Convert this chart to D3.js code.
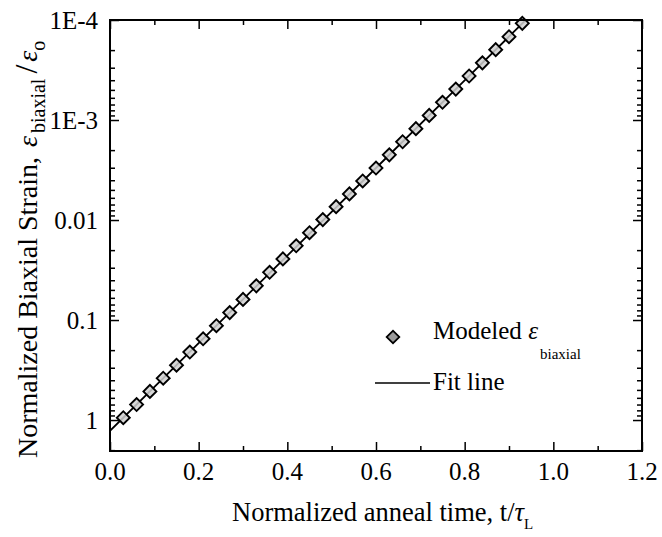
<!DOCTYPE html>
<html>
<head>
<meta charset="utf-8">
<script src="https://cdn.jsdelivr.net/npm/d3@7"></script>
<style>
  html, body { margin: 0; padding: 0; background: #fff; }
  svg { display: block; }
  svg text { font-family: "Liberation Serif", "Times New Roman", serif; fill: #000; }
</style>
</head>
<body>
<svg id="chart" width="662" height="537"></svg>
<script>
// Normalized anneal time t/tau_L for the modeled points
const annealTime = [0.03, 0.06, 0.09, 0.12, 0.15, 0.18, 0.21, 0.24, 0.27, 0.30,
                    0.33, 0.36, 0.39, 0.42, 0.45, 0.48, 0.51, 0.54, 0.57, 0.60,
                    0.63, 0.66, 0.69, 0.72, 0.75, 0.78, 0.81, 0.84, 0.87, 0.90, 0.93];
// Modeled normalized biaxial strain eps_biaxial / eps_o
const modeledStrain = [0.948, 0.700, 0.517, 0.382, 0.283, 0.209, 0.154, 0.114, 0.0842, 0.0622,
                       0.0455, 0.0333, 0.0245, 0.0181, 0.0134, 0.0099, 0.00735, 0.00548, 0.00407, 0.00302,
                       0.00223, 0.00165, 0.00122, 0.000900, 0.000665, 0.000491, 0.000363, 0.000268, 0.000198, 0.000147, 0.000108];
// Fit line (straight in log space)
const fitTime = [0.0, 0.2, 0.4, 0.6, 0.8, 0.94];
const fitStrain = [1.28, 0.1706, 0.0227, 0.00302, 0.000402, 0.0000979];
// Axis ticks
const xTickValues = [0.0, 0.2, 0.4, 0.6, 0.8, 1.0, 1.2];
const xTickLabels = ["0.0", "0.2", "0.4", "0.6", "0.8", "1.0", "1.2"];
const yTickValues = [1e-4, 1e-3, 1e-2, 1e-1, 1];
const yTickLabels = ["1E-4", "1E-3", "0.01", "0.1", "1"];

const svg = d3.select("#chart");
const plotL = 110, plotR = 642, plotT = 20, plotB = 451;

const x = d3.scaleLinear().domain([0, 1.2]).range([plotL, plotR]);
const y = d3.scaleLog().domain([2.04, 1e-4]).range([plotB, plotT]);

// minor ticks
const xMinor = [0.1, 0.3, 0.5, 0.7, 0.9, 1.1];
const yMinor = [];
yTickValues.forEach(d => {
  for (let k = 2; k <= 9; k++) { const v = d * k; if (v <= 2.04) yMinor.push(v); }
});

const g = svg.append("g");

// data clip
svg.append("defs").append("clipPath").attr("id", "plotclip")
  .append("rect").attr("x", plotL).attr("y", plotT).attr("width", plotR - plotL).attr("height", plotB - plotT);

// fit line
const line = d3.line().x((d, i) => x(fitTime[i])).y((d, i) => y(fitStrain[i]));
g.append("path").datum(fitStrain)
  .attr("clip-path", "url(#plotclip)")
  .attr("d", line).attr("fill", "none").attr("stroke", "#000").attr("stroke-width", 1.8);

// diamonds
const diamond = d3.symbol(d3.symbolSquare, 84);
g.append("g").selectAll("path").data(modeledStrain).join("path")
  .attr("d", diamond)
  .attr("transform", (d, i) => `translate(${x(annealTime[i])},${y(d)}) rotate(45)`)
  .attr("fill", "#d0d0d0").attr("fill-opacity", 0.85).attr("stroke", "#000").attr("stroke-width", 1.9);

// axes (ticks inward on all four sides)
const axisStyle = sel => {
  sel.select(".domain").remove();
  sel.selectAll("line").attr("stroke", "#000").attr("stroke-width", 1.5);
};
svg.append("g").attr("transform", `translate(0,${plotB})`)
  .call(d3.axisTop(x).tickValues(xTickValues).tickSize(9).tickFormat("")).call(axisStyle);
svg.append("g").attr("transform", `translate(0,${plotB})`)
  .call(d3.axisTop(x).tickValues(xMinor).tickSize(5).tickFormat("")).call(axisStyle);
svg.append("g").attr("transform", `translate(0,${plotT})`)
  .call(d3.axisBottom(x).tickValues(xTickValues).tickSize(9).tickFormat("")).call(axisStyle);
svg.append("g").attr("transform", `translate(0,${plotT})`)
  .call(d3.axisBottom(x).tickValues(xMinor).tickSize(5).tickFormat("")).call(axisStyle);

svg.append("g").attr("transform", `translate(${plotL},0)`)
  .call(d3.axisRight(y).tickValues(yTickValues).tickSize(9).tickFormat("")).call(axisStyle);
svg.append("g").attr("transform", `translate(${plotL},0)`)
  .call(d3.axisRight(y).tickValues(yMinor).tickSize(5).tickFormat("")).call(axisStyle);
svg.append("g").attr("transform", `translate(${plotR},0)`)
  .call(d3.axisLeft(y).tickValues(yTickValues).tickSize(9).tickFormat("")).call(axisStyle);
svg.append("g").attr("transform", `translate(${plotR},0)`)
  .call(d3.axisLeft(y).tickValues(yMinor).tickSize(5).tickFormat("")).call(axisStyle);

// frame
svg.append("rect").attr("x", plotL).attr("y", plotT).attr("width", plotR - plotL).attr("height", plotB - plotT)
  .attr("fill", "none").attr("stroke", "#000").attr("stroke-width", 2);

// tick labels
svg.append("g").selectAll("text").data(xTickValues).join("text")
  .attr("x", d => x(d)).attr("y", 480).attr("text-anchor", "middle")
  .attr("font-size", 25).text((d, i) => xTickLabels[i]);
svg.append("g").selectAll("text").data(yTickValues).join("text")
  .attr("x", 98).attr("y", d => y(d)).attr("dy", "0.34em").attr("text-anchor", "end")
  .attr("font-size", 25).text((d, i) => yTickLabels[i]);

// x axis title
const xt = svg.append("text").attr("x", 232).attr("y", 521).attr("font-size", 26.5);
xt.append("tspan").text("Normalized anneal time, t/");
xt.append("tspan").attr("font-style", "italic").text("τ");
xt.append("tspan").attr("font-size", 15).attr("dy", 8).text("L");

// y axis title
const yt = svg.append("text").attr("transform", "translate(37,458) rotate(-90)").attr("font-size", 28);
yt.append("tspan").text("Normalized Biaxial Strain,");
yt.append("tspan").attr("font-style", "italic").attr("dx", 10).text("ε");
yt.append("tspan").attr("font-size", 20).attr("dy", 8).attr("dx", 3).text("biaxial");
yt.append("tspan").attr("dy", -8).attr("dx", 5).attr("font-size", 32).text("/");
yt.append("tspan").attr("font-style", "italic").attr("dx", 3).text("ε");
yt.append("tspan").attr("font-size", 20).attr("dy", 8).text("o");

// legend
const lg = svg.append("g");
lg.append("path").attr("d", d3.symbol(d3.symbolSquare, 80))
  .attr("transform", "translate(393,337) rotate(45)")
  .attr("fill", "#9a9a9a").attr("stroke", "#000").attr("stroke-width", 1.8);
const lt = lg.append("text").attr("x", 433).attr("y", 339).attr("font-size", 25);
lt.append("tspan").text("Modeled ");
lt.append("tspan").attr("font-style", "italic").text("ε");
lt.append("tspan").attr("font-size", 15).attr("dy", 20).attr("dx", 2).text("biaxial");
lg.append("line").attr("x1", 375).attr("x2", 430).attr("y1", 383).attr("y2", 383)
  .attr("stroke", "#000").attr("stroke-width", 1.6);
lg.append("text").attr("x", 433).attr("y", 390).attr("font-size", 25).text("Fit line");
</script>
</body>
</html>
